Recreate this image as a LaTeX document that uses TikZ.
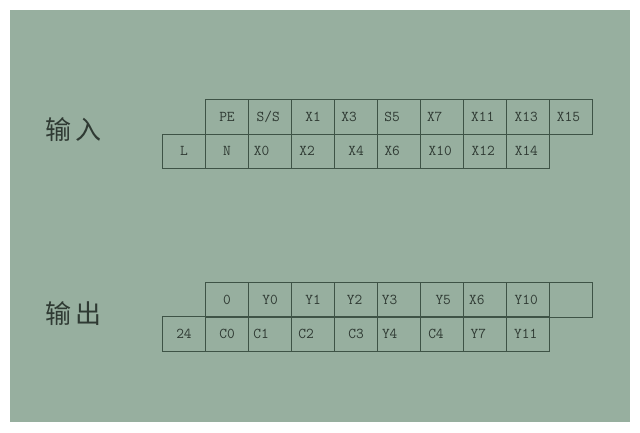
\documentclass[tikz,border=0pt]{standalone}
\usepackage{fontspec}
\newfontfamily\cjk{Noto Sans CJK SC}
\usetikzlibrary{positioning}
\definecolor{panel}{HTML}{97AF9F}
\definecolor{rule}{HTML}{3E5346}
\definecolor{ink}{HTML}{2F3A33}

\begin{document}
\begin{tikzpicture}[
	  x=1pt, y=-1pt,
	  % style for terminal boxes
	  cell/.style={rectangle, draw=rule, line width=0.9pt, minimum width=43.05pt,
	    minimum height=34.2pt, inner sep=0pt, anchor=north west},
	  % style for terminal names
	  tag/.style={text=ink, inner sep=0pt, font=\ttfamily\fontsize{15}{15}\selectfont},
	  % style for row titles
	  ttl/.style={text=ink, inner sep=0pt, font=\cjk\fontsize{26}{26}\selectfont}]

      \useasboundingbox (0,0) rectangle (640,432);
      \fill[panel] (10,10) rectangle (630,422);

      % input terminals
      \node[ttl](intitle) at (73.5,130) {输\hspace{5pt}入};
      \foreach \t/\dx [count=\i from 0] in {PE/0, {S/S}/-1.7, X1/0, X3/-7, S5/-7,
          X7/-7.5, X11/-2.6, X13/-2, X15/-2.8}{
        \node[cell](ia\i) at ({205+\i*43.05},99.3) {};
        \node[tag, xshift=\dx pt](tia\i) at (ia\i.center) {\t};
      }
      \foreach \t/\dx [count=\i from 0] in {L/0, N/0, X0/-8.4, X2/-6, X4/0,
          X6/-7, X10/-2, X12/-2, X14/-2}{
        \node[cell](ib\i) at ({162+\i*43.05},133.5) {};
        \node[tag, xshift=\dx pt](tib\i) at (ib\i.center) {\t};
      }

      % output terminals
      \node[ttl](outtitle) at (73.5,314) {输\hspace{5pt}出};
      \foreach \t/\dx [count=\i from 0] in {0/0, Y0/0, Y1/0, Y2/-1.5, Y3/-9.5,
          Y5/1, X6/-8.5, Y10/-2, {}/0}{
        \node[cell](oa\i) at ({205+\i*43.05},282.3) {};
        \node[tag, xshift=\dx pt](toa\i) at (oa\i.center) {\t};
      }
      \foreach \t/\dx [count=\i from 0] in {24/0, C0/0, C1/-9, C2/-7, C3/0,
          Y4/-9.5, C4/-6.3, Y7/-7, Y11/-2.7}{
        \node[cell](ob\i) at ({162+\i*43.05},316.3) {};
        \node[tag, xshift=\dx pt](tob\i) at (ob\i.center) {\t};
      }

\end{tikzpicture}
\end{document}
